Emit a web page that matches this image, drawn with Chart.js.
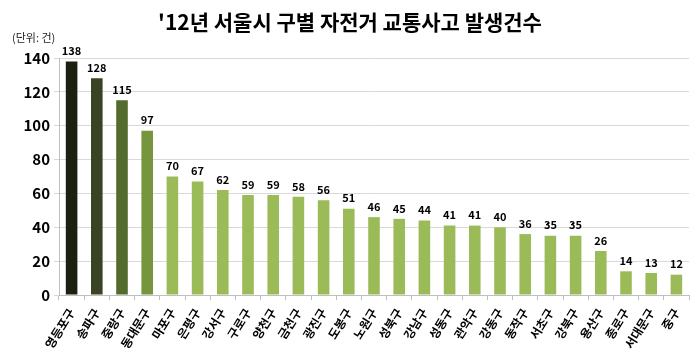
<!DOCTYPE html>
<html><head><meta charset="utf-8">
<script src="https://cdn.jsdelivr.net/npm/chart.js@4"></script>
<style>html,body{margin:0;padding:0;background:#fff}#w{width:700px;height:357px}</style>
</head><body><div id="w"><canvas id="c" width="700" height="357"></canvas></div>
<script>
const categories=["영등포구","송파구","중랑구","동대문구","마포구","은평구","강서구","구로구","양천구","금천구","광진구","도봉구","노원구","성북구","강남구","성동구","관악구","강동구","동작구","서초구","강북구","용산구","종로구","서대문구","중구"];
const values=[138,128,115,97,70,67,62,59,59,58,56,51,46,45,44,41,41,40,36,35,35,26,14,13,12];
const yTicks=[0,20,40,60,80,100,120,140];
const titleText="'12년 서울시 구별 자전거 교통사고 발생건수";
const unitText="(단위: 건)";
const colors=values.map((v,i)=>["#1b2010","#3a4424","#536b2c","#77953d"][i]||"#9bbb59");
const F="'Noto Sans CJK KR','Noto Sans',sans-serif";
const deco={id:'deco',afterDraw(ch){const c=ch.ctx;c.save();
c.fillStyle='#000';c.textAlign='center';c.textBaseline='middle';
c.font="bold 21px "+F;c.fillText(titleText,350,22);
c.font="11px "+F;c.textAlign='left';c.fillStyle='#222';c.fillText(unitText,12,38);
c.font="bold 11px "+F;c.textAlign='center';c.textBaseline='bottom';c.fillStyle='#000';
const m=ch.getDatasetMeta(0);m.data.forEach((b,i)=>{c.fillText(values[i],b.x,b.y-5);});
c.restore();}};
new Chart(document.getElementById('c'),{type:'bar',
data:{labels:categories,datasets:[{data:values,backgroundColor:colors,barPercentage:0.46,categoryPercentage:1}]},
options:{responsive:false,animation:false,devicePixelRatio:1,
layout:{padding:{top:58,right:11,left:0,bottom:0}},
plugins:{legend:{display:false},tooltip:{enabled:false}},
scales:{
x:{grid:{display:true,offset:true,drawOnChartArea:false,drawTicks:true,tickLength:5,color:'#bfbfbf'},border:{color:'#bfbfbf'},
ticks:{autoSkip:false,maxRotation:58,minRotation:58,color:'#000',font:{family:F,size:12,weight:'bold'},padding:6},
afterFit(s){s.height=62;}},
y:{min:0,max:140,afterBuildTicks(s){s.ticks=yTicks.map(v=>({value:v}));},
grid:{color:'#d9d9d9',tickLength:5,drawTicks:true},border:{color:'#bfbfbf'},
ticks:{color:'#000',font:{family:F,size:15,weight:'bold'},padding:4},
afterFit(s){s.width=59;}}
}},plugins:[deco]});
</script></body></html>
